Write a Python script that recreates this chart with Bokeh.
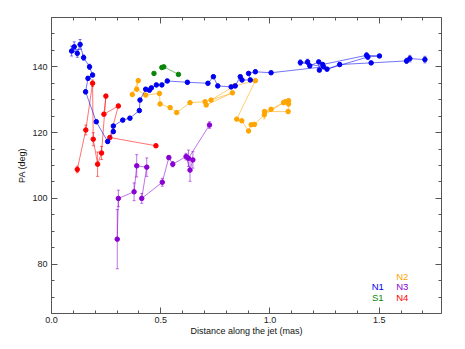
from bokeh.plotting import figure
from bokeh.models import (LinearAxis, FixedTicker, Range1d, Label, Whisker,
                          ColumnDataSource, TeeHead, NumeralTickFormatter,
                          CustomJSTickFormatter)
from bokeh.embed import file_html
from bokeh.resources import INLINE

# ---- data (distance along the jet in mas, PA in deg, PA error in deg) ----
n1_x = [0.092, 0.104, 0.118, 0.131, 0.147, 0.174, 0.188, 0.167, 0.156, 0.205,
        0.257, 0.283, 0.283, 0.326, 0.359, 0.402, 0.405, 0.431, 0.448, 0.457,
        0.480, 0.505, 0.530, 0.622, 0.716, 0.741, 0.761, 0.822, 0.841, 0.864,
        0.872, 0.910, 0.902, 0.933, 1.005, 1.245, 1.139, 1.172, 1.182, 1.223,
        1.226, 1.241, 1.442, 1.501, 1.448, 1.261, 1.319, 1.463, 1.625, 1.640,
        1.709]
n1_pa = [144.8, 146.1, 144.1, 146.8, 142.8, 140.0, 137.5, 136.5, 132.4, 123.3,
         117.3, 120.3, 122.0, 123.8, 124.4, 126.7, 129.9, 133.2, 132.9, 133.6,
         134.5, 134.5, 135.7, 135.3, 135.0, 137.0, 134.2, 133.9, 134.2, 137.0,
         136.0, 136.0, 138.0, 138.5, 138.2, 140.0, 141.3, 141.5, 140.3, 141.5,
         139.0, 140.7, 143.5, 143.3, 143.0, 139.3, 140.7, 141.2, 141.8, 142.5,
         142.2]
n1_err = [1.5, 1.5, 1.2, 1.5, 0.8, 0.8, 0.6, 0.6, 0.6, 0.5,
          0.6, 0.5, 0.5, 0.5, 0.5, 0.5, 0.5, 0.5, 0.5, 0.5,
          0.5, 0.5, 0.5, 0.5, 0.5, 0.5, 0.5, 0.5, 0.5, 0.5,
          0.5, 0.5, 0.5, 0.5, 0.5, 0.5, 0.8, 0.8, 0.5, 0.5,
          0.5, 0.5, 0.8, 0.5, 0.8, 0.5, 0.5, 0.5, 0.8, 1.0,
          1.0]

n2_x = [0.370, 0.397, 0.390, 0.431, 0.494, 0.497, 0.543, 0.573, 0.634, 0.703,
        0.708, 0.828, 0.730, 0.838, 0.933, 0.848, 0.871, 0.902, 0.914, 0.929,
        0.974, 1.062, 1.085, 1.085, 1.083, 0.975, 1.005, 1.070]
n2_pa = [131.6, 135.8, 133.2, 131.4, 131.9, 128.7, 127.6, 126.1, 129.1, 129.4,
         128.4, 132.1, 129.9, 134.2, 135.8, 124.1, 123.6, 120.5, 122.4, 122.5,
         125.4, 129.1, 129.7, 128.7, 126.4, 126.4, 127.1, 129.4]
n2_err = [0.4, 0.5, 0.4, 0.4, 0.4, 0.4, 0.4, 0.4, 0.4, 0.4,
          0.4, 0.4, 0.4, 0.4, 0.4, 0.4, 0.4, 0.4, 0.4, 0.4,
          1.2, 0.5, 0.5, 0.5, 0.5, 0.5, 0.5, 0.5]

n3_x = [0.301, 0.306, 0.378, 0.390, 0.436, 0.413, 0.507, 0.537, 0.555, 0.616,
        0.634, 0.647, 0.627, 0.723]
n3_pa = [87.6, 100.0, 102.0, 109.9, 109.5, 100.0, 104.9, 112.4, 110.4, 112.7,
         108.6, 111.7, 112.2, 122.3]
n3_err = [9.0, 2.5, 2.7, 3.4, 2.8, 1.5, 1.2, 0.6, 0.8, 1.0,
          3.4, 2.5, 2.5, 1.0]

n4_x = [0.118, 0.157, 0.188, 0.191, 0.211, 0.229, 0.249, 0.240, 0.306, 0.267,
        0.478]
n4_pa = [108.8, 120.8, 135.0, 118.0, 110.4, 113.8, 131.1, 125.6, 128.1, 118.5,
         116.0]
n4_err = [1.0, 1.5, 1.0, 2.0, 3.7, 2.0, 0.5, 0.5, 0.5, 0.5, 0.5]

s1_x = [0.469, 0.505, 0.514, 0.581]
s1_pa = [138.0, 139.8, 140.0, 137.7]
s1_err = [0.3, 0.3, 0.3, 0.3]
s1_line_start = 1

x_major = [0.0, 0.5, 1.0, 1.5]
x_minor = [0.1, 0.2, 0.3, 0.4, 0.6, 0.7, 0.8, 0.9, 1.1, 1.2, 1.3, 1.4, 1.6, 1.7]
y_major = [80, 100, 120, 140]
y_minor = [65, 70, 75, 85, 90, 95, 105, 110, 115, 125, 130, 135, 145, 150, 155]

C_N1 = "#0000f0"
C_N2 = "#ffa500"
C_N3 = "#8a00d4"
C_N4 = "#ff0000"
C_S1 = "#0a850a"

W, H = 457, 341
p = figure(width=W, height=H, output_backend="svg", toolbar_location=None,
           x_range=Range1d(0, 1.785), y_range=Range1d(65, 155),
           x_axis_label="Distance along the jet (mas)", y_axis_label="PA (deg)",
           min_border_left=51, min_border_right=16, min_border_top=17,
           min_border_bottom=28)
p.xgrid.visible = False
p.ygrid.visible = False
p.outline_line_color = None
p.background_fill_color = "white"
p.border_fill_color = "white"

AX_COLOR = "#555555"


def style_axis(ax, ticks, minor, show_labels, fmt=None):
    ax.ticker = FixedTicker(ticks=ticks, minor_ticks=minor)
    ax.axis_line_color = AX_COLOR
    ax.major_tick_line_color = AX_COLOR
    ax.minor_tick_line_color = AX_COLOR
    ax.major_tick_in = 6
    ax.major_tick_out = 0
    ax.minor_tick_in = 3
    ax.minor_tick_out = 0
    if fmt is not None:
        ax.formatter = fmt
    if show_labels:
        ax.major_label_text_font = "Liberation Sans"
        ax.major_label_text_font_size = "9px"
        ax.major_label_text_color = "#222222"
        ax.axis_label_text_font = "Liberation Sans"
        ax.axis_label_text_font_size = "9px"
        ax.axis_label_text_font_style = "normal"
        ax.axis_label_text_color = "#111111"
    else:
        ax.formatter = CustomJSTickFormatter(code="return ''")
        ax.major_label_standoff = 0


xax = p.xaxis[0]
yax = p.yaxis[0]
style_axis(xax, x_major, x_minor, True, NumeralTickFormatter(format="0.0"))
style_axis(yax, y_major, y_minor, True)
xax.major_label_standoff = 3
xax.axis_label_standoff = 0
yax.major_label_standoff = 4
yax.axis_label_standoff = 2

top_ax = LinearAxis()
right_ax = LinearAxis()
style_axis(top_ax, x_major, x_minor, False)
style_axis(right_ax, y_major, y_minor, False)
p.add_layout(top_ax, "above")
p.add_layout(right_ax, "right")


def draw(x, y, err, color, line_start=0):
    src = ColumnDataSource(dict(x=x, y=y,
                                lo=[a - e for a, e in zip(y, err)],
                                hi=[a + e for a, e in zip(y, err)]))
    p.line(x[line_start:], y[line_start:], line_color=color, line_width=1,
           line_alpha=0.55)
    p.add_layout(Whisker(source=src, base="x", upper="hi", lower="lo",
                         dimension="height", line_color=color, line_alpha=0.55,
                         line_width=1,
                         upper_head=TeeHead(size=3, line_color=color, line_alpha=0.55),
                         lower_head=TeeHead(size=3, line_color=color, line_alpha=0.55)))
    p.scatter("x", "y", source=src, size=4.5, fill_color=color, line_color=color)


draw(n4_x, n4_pa, n4_err, C_N4)
draw(n3_x, n3_pa, n3_err, C_N3)
draw(n2_x, n2_pa, n2_err, C_N2)
draw(s1_x, s1_pa, s1_err, C_S1, s1_line_start)
draw(n1_x, n1_pa, n1_err, C_N1)

legend_items = [("N2", C_N2, 350.7, 37.3), ("N1", C_N1, 326.3, 27.3),
                ("N3", C_N3, 350.7, 27.3), ("S1", C_S1, 326.3, 16.3),
                ("N4", C_N4, 350.7, 16.3)]
for txt, col, lx, ly in legend_items:
    p.add_layout(Label(x=lx, y=ly, x_units="screen", y_units="screen", text=txt,
                       text_color=col, text_font="Liberation Sans",
                       text_font_size="9.5px", text_align="center",
                       text_baseline="middle"))

open("out.html", "w").write(file_html(p, INLINE))
